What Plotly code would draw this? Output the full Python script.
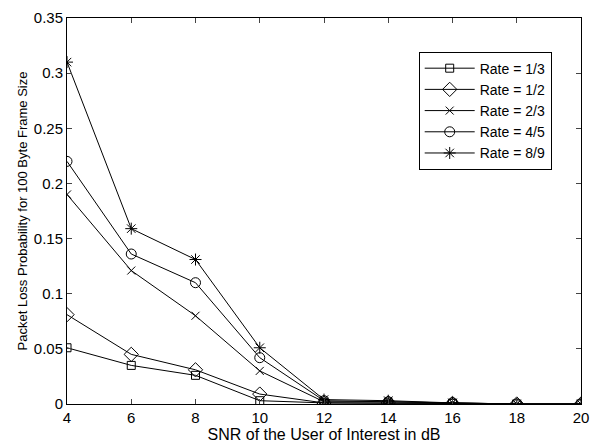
import plotly.graph_objects as go

snr = [4, 6, 8, 10, 12, 14, 16, 18, 20]
rate_1_3 = [0.051, 0.035, 0.026, 0.003, 0.001, 0.001, 0.0005, 0.0, 0.0]
rate_1_2 = [0.081, 0.045, 0.031, 0.009, 0.001, 0.001, 0.0005, 0.0, 0.0]
rate_2_3 = [0.19, 0.121, 0.080, 0.030, 0.002, 0.002, 0.001, 0.0, 0.0]
rate_4_5 = [0.22, 0.136, 0.110, 0.042, 0.003, 0.002, 0.001, 0.0, 0.0]
rate_8_9 = [0.31, 0.159, 0.131, 0.051, 0.004, 0.003, 0.001, 0.0, 0.0]

series = [
    ("Rate = 1/3", rate_1_3, "square-open", 8),
    ("Rate = 1/2", rate_1_2, "diamond-open", 11),
    ("Rate = 2/3", rate_2_3, "x-thin-open", 8),
    ("Rate = 4/5", rate_4_5, "circle-open", 10),
    ("Rate = 8/9", rate_8_9, "asterisk-open", 10),
]

fig = go.Figure()
for name, vals, sym, sz in series:
    fig.add_trace(go.Scatter(
        x=snr, y=vals, name=name, mode="lines+markers",
        line=dict(color="black", width=1),
        marker=dict(symbol=sym, size=sz, color="black", line=dict(color="black", width=1)),
    ))

fig.update_layout(
    width=598, height=446,
    margin=dict(l=67, r=9, t=14, b=42),
    paper_bgcolor="white", plot_bgcolor="white",
    font=dict(family="Liberation Sans, Arial, sans-serif", size=15, color="black"),
    showlegend=True,
    legend=dict(
        x=0.943, y=0.913, xanchor="right", yanchor="top",
        xref="paper", yref="paper",
        bgcolor="white", bordercolor="black", borderwidth=1,
        font=dict(size=14), tracegroupgap=0, itemwidth=50,
    ),
)
fig.update_xaxes(
    range=[4, 20], tickvals=snr, ticks="inside", ticklen=5, mirror="ticks",
    showline=True, linecolor="black", linewidth=1, showgrid=False, zeroline=False,
    tickfont=dict(size=15),
    title=dict(text="SNR of the User of Interest in dB", font=dict(size=16), standoff=0),
)
fig.update_yaxes(
    range=[0, 0.35], tickvals=[0, 0.05, 0.1, 0.15, 0.2, 0.25, 0.3, 0.35],
    ticktext=["0", "0.05", "0.1", "0.15", "0.2", "0.25", "0.3", "0.35"],
    ticks="inside", ticklen=5, mirror="ticks",
    showline=True, linecolor="black", linewidth=1, showgrid=False, zeroline=False,
    tickfont=dict(size=15),
    title=dict(text="Packet Loss Probability for 100 Byte Frame Size", font=dict(size=13), standoff=3),
)

fig.write_html("out.html", config={"displayModeBar": False},
               post_script="document.body.style.margin='0';")
